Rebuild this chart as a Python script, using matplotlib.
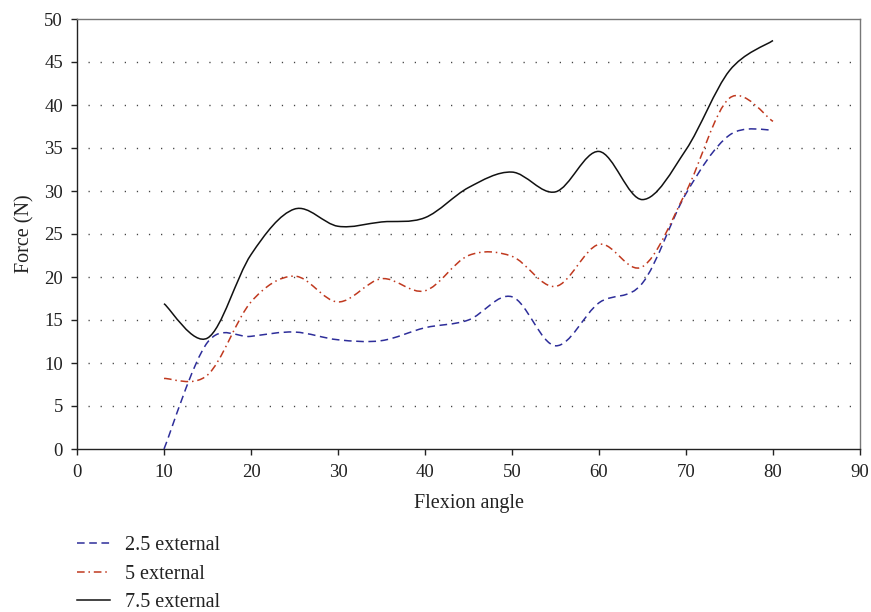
import numpy as np
import matplotlib
matplotlib.use("Agg")
import matplotlib.pyplot as plt
from matplotlib.path import Path
from matplotlib.patches import PathPatch
from matplotlib.lines import Line2D

plt.rcParams['font.family'] = ['Liberation Serif', 'DejaVu Serif']

# Flexion angle (degrees) and measured force (N) for each external rotation load
angles = [10, 15, 20, 25, 30, 35, 40, 45, 50, 55, 60, 65, 70, 75, 80]
force_2_5 = [0.0, 12.4, 13.1, 13.6, 12.7, 12.6, 14.1, 15.0, 17.7, 12.0, 17.0, 19.3, 29.7, 36.5, 37.1]
force_5 = [8.2, 8.6, 17.1, 20.1, 17.1, 19.8, 18.4, 22.5, 22.4, 18.9, 23.8, 21.2, 29.9, 40.8, 38.1]
force_7_5 = [16.9, 12.9, 22.6, 27.9, 25.9, 26.4, 26.9, 30.4, 32.2, 29.9, 34.6, 29.0, 34.8, 44.0, 47.5]

series_labels = ['2.5 external', '5 external', '7.5 external']
series_colors = ['#2e2e9a', '#c0391f', '#111111']
series_styles = [(0, (5, 3)), (0, (5, 2.5, 1, 2.5)), '-']

x_ticks = list(range(0, 91, 10))
y_ticks = list(range(0, 51, 5))


def smooth_path(xs, ys):
    """Cubic Bezier path through the points (Catmull-Rom style smoothing)."""
    p = np.column_stack([xs, ys]).astype(float)
    n = len(p)
    verts = [p[0]]
    codes = [Path.MOVETO]
    for i in range(n - 1):
        p0 = p[i - 1] if i > 0 else p[i]
        p1 = p[i]
        p2 = p[i + 1]
        p3 = p[i + 2] if i + 2 < n else p[i + 1]
        c1 = p1 + (p2 - p0) / 6.0
        c2 = p2 - (p3 - p1) / 6.0
        verts += [c1, c2, p2]
        codes += [Path.CURVE4] * 3
    return Path(verts, codes)


fig = plt.figure(figsize=(8.71, 6.12), dpi=100)
ax = fig.add_axes([77 / 871, 1 - 449 / 612, (860 - 77) / 871, (449 - 19) / 612])

for ys, col, ls in zip([force_2_5, force_5, force_7_5], series_colors, series_styles):
    patch = PathPatch(smooth_path(angles, ys), facecolor='none', edgecolor=col,
                      linestyle=ls, linewidth=1.1, transform=ax.transData, zorder=3)
    ax.add_patch(patch)

ax.set_xlim(0, 90)
ax.set_ylim(0, 50)
ax.set_xticks(x_ticks)
ax.set_yticks(y_ticks)

for yv in y_ticks[1:-1]:
    ax.plot([1.3, 90], [yv, yv], color='#444444', linewidth=1.0,
            linestyle=(0, (0.9, 7.8)), zorder=1)

for side in ['left', 'bottom']:
    ax.spines[side].set_color('#222222')
    ax.spines[side].set_linewidth(1.0)
for side in ['top', 'right']:
    ax.spines[side].set_color('#777777')
    ax.spines[side].set_linewidth(1.0)

ax.tick_params(axis='both', direction='out', length=4, width=1.0, color='#222222',
               labelsize=13.5, labelcolor='#222222')
ax.tick_params(axis='x', pad=7)
ax.tick_params(axis='y', pad=6)
ax.set_xlabel('Flexion angle', fontsize=14.5, color='#222222', labelpad=9)
ax.set_ylabel('Force (N)', fontsize=14.5, color='#222222', labelpad=7)

handles = [Line2D([], [], color=c, linestyle=s, linewidth=1.1)
           for c, s in zip(series_colors, series_styles)]
fig.legend(handles, series_labels, loc='upper left',
           bbox_to_anchor=(63 / 871, 1 - 522 / 612), frameon=False,
           fontsize=14.5, handlelength=1.65, handletextpad=0.75,
           labelspacing=0.47, labelcolor='#222222', borderaxespad=0.3)

fig.savefig('out.png', dpi=100)
